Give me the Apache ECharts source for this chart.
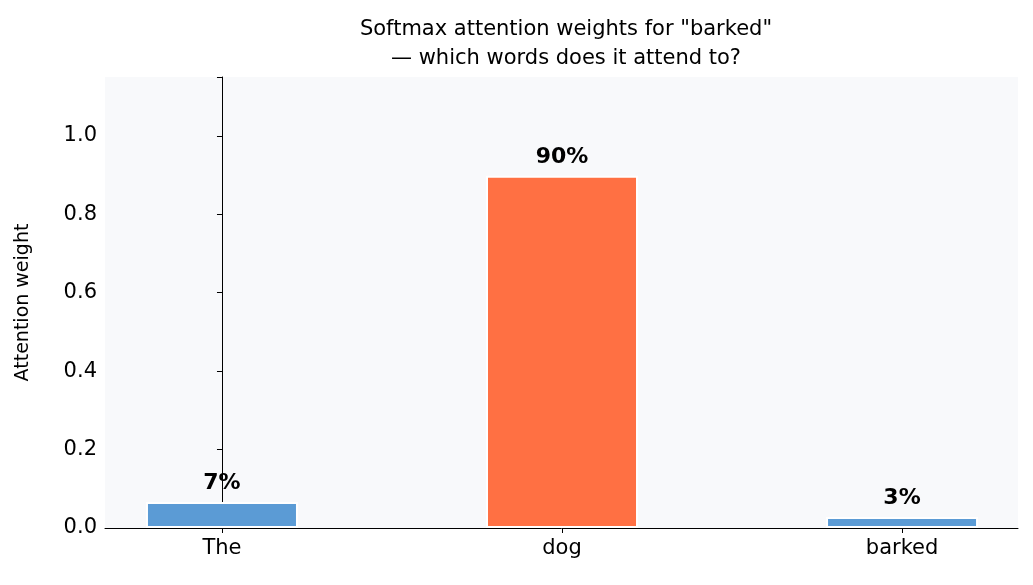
<!DOCTYPE html>
<html>
<head>
<meta charset="utf-8">
<script src="https://cdn.jsdelivr.net/npm/echarts@6/dist/echarts.min.js"></script>
<style>html,body{margin:0;background:#fff}#c{width:1033px;height:585px}</style>
</head>
<body>
<div id="c"></div>
<script>
var words = ["The", "dog", "barked"];
var weights = [0.066, 0.898, 0.028];
var barColors = ["#5b9bd5", "#ff7043", "#5b9bd5"];
var yTicks = [0, 0.2, 0.4, 0.6, 0.8, 1.0];
var xPos = [0, 1, 2];

var chart = echarts.init(document.getElementById("c"));
chart.setOption({
  animation: false,
  title: {
    text: 'Softmax attention weights for "barked"\n— which words does it attend to?',
    left: 561, top: 10, textAlign: "center",
    textStyle: { fontFamily: "DejaVu Sans", fontSize: 21, fontWeight: "normal", color: "#000", lineHeight: 29 }
  },
  grid: { left: 105, right: 15, top: 77, bottom: 57, backgroundColor: "#f8f9fb", show: true, borderWidth: 0 },
  xAxis: {
    type: "value", min: -0.344, max: 2.341,
    axisLine: { lineStyle: { color: "#000" } },
    splitLine: { show: false },
    axisTick: { show: true, customValues: xPos, lineStyle: { color: "#000" } },
    axisLabel: {
      customValues: xPos,
      fontFamily: "DejaVu Sans", fontSize: 21, color: "#000", margin: 10,
      formatter: function (v) { return words[Math.round(v)]; }
    }
  },
  yAxis: {
    type: "value", min: 0, max: 1.15, interval: 0.2,
    name: "Attention weight", nameLocation: "middle", nameGap: 72,
    nameTextStyle: { fontFamily: "DejaVu Sans", fontSize: 19, color: "#000" },
    axisLine: { show: true, lineStyle: { color: "#000" } },
    axisTick: { show: true, lineStyle: { color: "#000" } },
    splitLine: { show: false },
    axisLabel: {
      fontFamily: "DejaVu Sans", fontSize: 21, color: "#000",
      formatter: function (v) { return yTicks.indexOf(Math.round(v * 10) / 10) >= 0 ? v.toFixed(1) : ""; }
    }
  },
  series: [{
    type: "bar", barWidth: 152,
    data: weights.map(function (v, i) {
      return { value: [xPos[i], v], itemStyle: { color: barColors[i], borderColor: "#fff", borderWidth: 2 } };
    }),
    label: {
      show: true, position: "top", distance: 8,
      fontFamily: "DejaVu Sans", fontSize: 22, fontWeight: "bold", color: "#000",
      formatter: function (p) { return Math.round(p.value[1] * 100) + "%"; }
    }
  }]
});
</script>
</body>
</html>
